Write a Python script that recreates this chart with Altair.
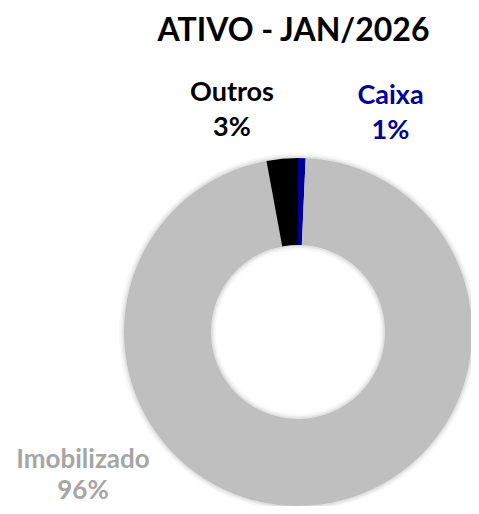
import altair as alt
import pandas as pd

title_text = "ATIVO - JAN/2026"
categories = ["Caixa", "Imobilizado", "Outros"]
values = [0.7, 96.4, 2.9]
colors = ["#000099", "#BFBFBF", "#000000"]
label_colors = ["#000099", "#A6A6A6", "#000000"]

df = pd.DataFrame({"categoria": categories, "valor": values, "ordem": list(range(len(categories)))})

CX, CY = 290, 324
R_OUT, R_IN = 174, 87
FONT = "Lato"

base = alt.Chart(df)

ring = pd.DataFrame({"s": [1]})
shadows = []
for d_out, d_in, op in [(5, 5, 0.03), (3, 3, 0.04), (1.5, 1.5, 0.05)]:
    shadows.append(
        alt.Chart(ring).mark_arc(radius=R_OUT + d_out, radius2=R_IN - d_in, color="#000000", opacity=op).encode(
            x=alt.value(CX), y=alt.value(CY), theta=alt.value(0), theta2=alt.value(6.2832)
        )
    )

donut = base.mark_arc(radius=R_OUT, radius2=R_IN).encode(
    x=alt.value(CX),
    y=alt.value(CY),
    theta=alt.Theta("valor:Q", stack=True),
    order=alt.Order("ordem:Q"),
    color=alt.Color("categoria:N", scale=alt.Scale(domain=categories, range=colors), legend=None),
)

label_pos = {"Caixa": (382.5, 87.5), "Imobilizado": (75, 452), "Outros": (224, 84.5)}
label_lh = {"Caixa": 35, "Imobilizado": 31, "Outros": 35}
label_fs = {"Caixa": 27, "Imobilizado": 26, "Outros": 27}

layers = shadows + [donut]
for cat, col in zip(categories, label_colors):
    px, py = label_pos[cat]
    t = base.transform_filter(alt.datum.categoria == cat).transform_calculate(
        rotulo="datum.categoria + '\\n' + format(datum.valor / 100, '.0%')"
    ).mark_text(
        font=FONT, fontWeight="bold", fontSize=label_fs[cat], color=col, lineBreak="\n",
        lineHeight=label_lh[cat], align="center", baseline="middle"
    ).encode(x=alt.value(px), y=alt.value(py), text="rotulo:N")
    layers.append(t)

title = alt.Chart(pd.DataFrame({"t": [title_text]})).mark_text(
    font=FONT, fontWeight="bold", fontSize=32, color="#000000", align="center", baseline="middle"
).encode(x=alt.value(285.5), y=alt.value(23), text="t:N")
layers.append(title)

chart = alt.layer(*layers).properties(
    width=463, height=498, padding=0, autosize=alt.AutoSizeParams(type="none")
).configure_view(stroke=None)

chart.save("out.html", embed_options={"renderer": "svg", "actions": False})
